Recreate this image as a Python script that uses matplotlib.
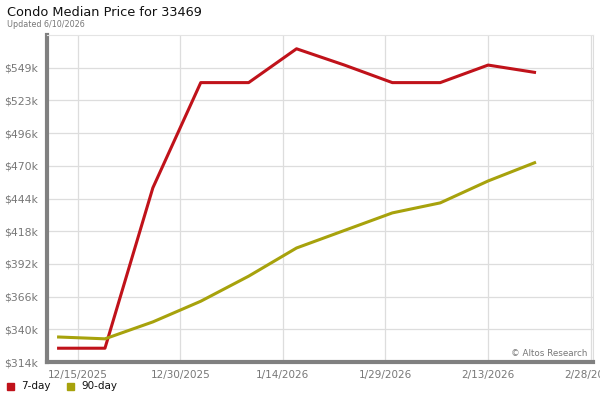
import numpy as np
import matplotlib.pyplot as plt
import matplotlib.dates as mdates
from datetime import date

dates = [date(2025, 12, 12), date(2025, 12, 19), date(2025, 12, 26), date(2026, 1, 2),
         date(2026, 1, 9), date(2026, 1, 16), date(2026, 1, 23), date(2026, 1, 30),
         date(2026, 2, 6), date(2026, 2, 13), date(2026, 2, 20)]
day7 = [325, 325, 453, 537, 537, 564, 551, 537, 537, 551, 545]
day90 = [334, 332.5, 346, 362.5, 382.5, 405, 419, 433, 441, 458.5, 473.5]

ytick_vals = [314 + 26.1 * i for i in range(10)]
ytick_labels = ['$314k', '$340k', '$366k', '$392k', '$418k', '$444k',
                '$470k', '$496k', '$523k', '$549k']
xtick_dates = [date(2025, 12, 15), date(2025, 12, 30), date(2026, 1, 14),
               date(2026, 1, 29), date(2026, 2, 13), date(2026, 2, 28)]
xtick_labels = ['12/15/2025', '12/30/2025', '1/14/2026', '1/29/2026', '2/13/2026', '2/28/2026']

red = '#c0121a'
olive = '#a7a20c'

fig = plt.figure(figsize=(6, 4), dpi=100)
ax = fig.add_axes([0.078, 0.095, 0.91, 0.8175])

ax.plot(dates, day7, color=red, lw=2.2, solid_capstyle='butt', zorder=3)
ax.plot(dates, day90, color=olive, lw=2.2, solid_capstyle='butt', zorder=3)

x0 = mdates.date2num(date(2025, 12, 15))
ax.set_xlim(x0 - 4.5, mdates.date2num(date(2026, 2, 28)) + 0.3)
ax.set_ylim(314, 575)

ax.set_yticks(ytick_vals)
ax.set_yticklabels(ytick_labels)
ax.set_xticks([mdates.date2num(d) for d in xtick_dates])
ax.set_xticklabels(xtick_labels)
ax.tick_params(axis='both', length=0, labelsize=7.5, labelcolor='#777777')
ax.tick_params(axis='y', labelsize=7.8, pad=6)
ax.tick_params(axis='x', pad=6)

ax.grid(True, color='#dddddd', lw=0.9)
ax.set_axisbelow(True)

ax.spines['left'].set_color('#808080')
ax.spines['left'].set_linewidth(3)
ax.spines['bottom'].set_color('#808080')
ax.spines['bottom'].set_linewidth(3)
ax.spines['top'].set_color('#e4e4e4')
ax.spines['top'].set_linewidth(0.8)
ax.spines['right'].set_color('#dddddd')
ax.spines['right'].set_linewidth(0.8)

ax.text(0.99, 0.012, '\u00a9 Altos Research', transform=ax.transAxes, ha='right',
        va='bottom', fontsize=6.3, color='#777777')

fig.text(0.012, 0.97, 'Condo Median Price for 33469', fontsize=9.3, color='#111111',
         va='center')
fig.text(0.012, 0.938, 'Updated 6/10/2026', fontsize=5.8, color='#777777', va='center')

# legend
fig.patches.append(plt.Rectangle((0.012, 0.026), 0.011, 0.016, transform=fig.transFigure,
                                 color=red, figure=fig))
fig.text(0.035, 0.034, '7-day', fontsize=7.5, color='#111111', va='center')
fig.patches.append(plt.Rectangle((0.112, 0.026), 0.011, 0.016, transform=fig.transFigure,
                                 color=olive, figure=fig))
fig.text(0.135, 0.034, '90-day', fontsize=7.5, color='#111111', va='center')

plt.savefig('out.png', dpi=100)
